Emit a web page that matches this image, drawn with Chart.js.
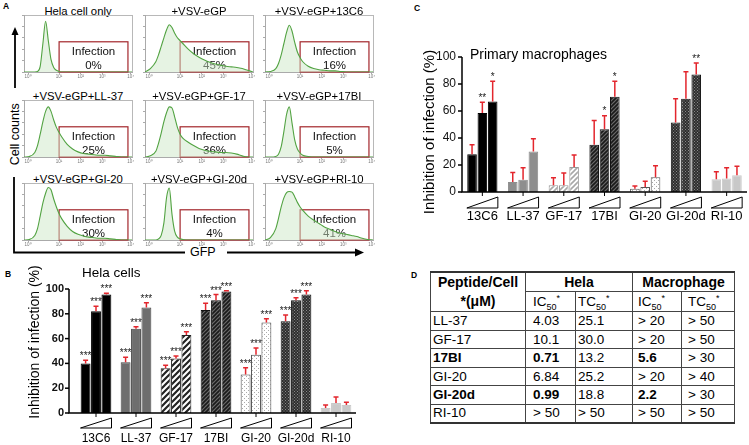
<!DOCTYPE html>
<html>
<head>
<meta charset="utf-8">
<script src="https://cdn.jsdelivr.net/npm/chart.js@4.4.1/dist/chart.umd.min.js"></script>
<style>
  body { margin: 0; background: #fff; }
  #fig { position: relative; width: 749px; height: 445px; overflow: hidden; font-family: 'Liberation Sans', Arial, sans-serif; color: #000; }
  #fig canvas { position: absolute; }
  .txt { position: absolute; white-space: nowrap; line-height: 1; }
  .letter { font-weight: bold; font-size: 8.5px; }
  .htitle { width: 130px; text-align: center; font-size: 11.3px; }
  #tbl { position: absolute; left: 430px; top: 271px; border-collapse: collapse; font-size: 13.5px; table-layout: fixed; }
  #tbl td, #tbl th { border: 1px solid #444; padding: 0 0 0 3px; text-align: left; line-height: 1; white-space: nowrap; }
  #tbl th { font-weight: bold; font-size: 14px; text-align: center; padding: 0; }
  #tbl tr.first th { border-top: 2px solid #333; }
  #tbl tr:last-child td { border-bottom: 2px solid #333; }
  #tbl sub, #tbl sup { font-size: 9px; line-height: 0; }
</style>
</head>
<body>
<div id="fig">
  <svg width="749" height="445" style="position:absolute;left:0;top:0">
    <g stroke="#000" stroke-width="1.8" fill="none">
      <line x1="15" y1="88" x2="15" y2="33"/>
      <polyline points="14,177 14,252.5 185,252.5"/>
      <line x1="227" y1="252.5" x2="356" y2="252.5"/>
    </g>
    <polygon points="15,27 11.5,35 18.5,35" fill="#000"/>
    <polygon points="364,252.5 355,248.5 355,256.5" fill="#000"/>
  </svg>
  <div class="txt letter" style="left:3px;top:2px">A</div>
  <div class="txt letter" style="left:5px;top:270px">B</div>
  <div class="txt letter" style="left:414px;top:4px">C</div>
  <div class="txt letter" style="left:411px;top:271px">D</div>
  <div class="txt" style="left:-22px;top:128px;width:74px;text-align:center;font-size:12.5px;transform:rotate(-90deg)">Cell counts</div>
  <div class="txt" style="left:190px;top:246px;font-size:12.5px">GFP</div>
  <div id="hist"></div>
  <canvas id="chartB" width="365" height="183" style="left:0;top:262px"></canvas>
  <canvas id="chartC" width="349" height="200" style="left:400px;top:30px"></canvas>
  <table id="tbl"></table>
</div>
<script>
Chart.defaults.font.family = "'Liberation Sans', Arial, sans-serif";
Chart.defaults.color = '#000';
const FONT = "'Liberation Sans', Arial, sans-serif";

// ---- panel A: flow histograms (GFP in log decades, counts in % of frame height)
const histTitles = ['Hela cell only', '+VSV-eGP', '+VSV-eGP+13C6', '+VSV-eGP+LL-37', '+VSV-eGP+GF-17',
  '+VSV-eGP+17BI', '+VSV-eGP+GI-20', '+VSV-eGP+GI-20d', '+VSV-eGP+RI-10'];
const infection = ['0%', '45%', '16%', '25%', '36%', '5%', '30%', '4%', '41%'];
const gfpLog = [0, 0.2, 0.4, 0.5, 0.6, 0.7, 0.8, 0.9, 1.0, 1.1, 1.2, 1.3, 1.4,
  1.6, 1.8, 2.0, 2.2, 2.4, 2.6, 2.8, 3.0, 3.2, 3.4, 3.6, 3.8, 4.0];
const gfpTicks = [0.15, 1.3, 2.1, 2.9, 3.95];
const gfpTickLabels = ['10⁰', '10¹', '10²', '10³', '10⁴'];
const gateRange = [1.3, 3.85];
const gateTop = 53;

const countsHela = [0, 0, 0, 1, 10, 50, 89, 55, 22, 8, 3, 1, 0, 0, 0, 0, 0, 0, 0, 0, 0, 0, 0, 0, 0, 0];
const countsVsv = [0, 6, 18, 30, 45, 60, 74, 83, 78, 68, 60, 55, 50, 40, 32, 26, 21, 17, 14, 12, 10, 9, 8, 6, 3, 0];
const counts13C6 = [0, 1, 6, 15, 30, 50, 70, 82, 72, 52, 35, 25, 18, 10, 6, 4, 3, 2, 2, 1, 0, 0, 0, 0, 0, 0];
const countsLL37 = [0, 1, 8, 20, 40, 62, 80, 88, 80, 65, 52, 43, 35, 22, 14, 9, 6, 5, 4, 3, 3, 2, 1, 0, 0, 0];
const countsGF17 = [0, 2, 10, 24, 42, 62, 78, 88, 86, 70, 52, 40, 33, 26, 20, 15, 12, 10, 9, 8, 8, 7, 5, 2, 0, 0];
const counts17BI = [0, 0, 1, 5, 18, 45, 75, 88, 60, 30, 14, 7, 3, 1, 0, 0, 0, 0, 0, 0, 0, 0, 0, 0, 0, 0];
const countsGI20 = [0, 1, 8, 20, 42, 65, 82, 92, 88, 72, 58, 46, 37, 24, 15, 10, 7, 5, 4, 3, 3, 2, 1, 0, 0, 0];
const countsGI20d = [0, 0, 0, 2, 8, 30, 75, 91, 45, 15, 5, 2, 1, 0, 0, 0, 0, 0, 0, 0, 0, 0, 0, 0, 0, 0];
const countsRI10 = [0, 4, 20, 38, 58, 74, 83, 85, 84, 76, 66, 58, 52, 42, 35, 29, 23, 19, 15, 12, 10, 8, 6, 3, 1, 0];
const histCounts = [countsHela, countsVsv, counts13C6, countsLL37, countsGF17, counts17BI, countsGI20, countsGI20d, countsRI10];

// ---- panels B and C: inhibition of infection (%), three rising doses per peptide
const peptides = ['13C6', 'LL-37', 'GF-17', '17BI', 'GI-20', 'GI-20d', 'RI-10'];
const helaLow = [40, 41, 36, 83, 31, 74, 4];
const helaMid = [82, 68, 44, 91, 47, 91, 8];
const helaHigh = [95.5, 85, 63, 98, 73, 95.5, 6.5];
const helaErrLow = [42.5, 45, 38.5, 88.5, 36.5, 79, 6.5];
const helaErrMid = [86, 69.5, 46, 95.5, 52.5, 93, 13];
const helaErrHigh = [96.5, 89, 65.5, 98.5, 76, 98.5, 8.6];
const helaStars = ['***', '***', '***', '***', '***', '***', ''];

const macLow = [28, 7.5, 5, 35, 2.5, 51.5, 9.5];
const macMid = [58.5, 9, 5, 46.5, 3.7, 69, 10];
const macHigh = [67, 30, 18.5, 70.5, 11, 87, 12.5];
const macErrLow = [35, 14.5, 10.5, 53, 4.5, 69, 15];
const macErrMid = [66.5, 18, 14, 56.5, 8, 89, 18];
const macErrHigh = [82, 39.5, 27.5, 82, 19.5, 95.5, 19];
const macStarsLow = ['', '', '', '', '', '', ''];
const macStarsMid = ['**', '', '', '*', '', '', ''];
const macStarsHigh = ['*', '', '', '*', '', '**', ''];

// ---- panel D
const tablePeptides = ['LL-37', 'GF-17', '17BI', 'GI-20', 'GI-20d', 'RI-10'];
const helaIC50 = ['4.03', '10.1', '0.71', '6.84', '0.99', '> 50'];
const helaTC50 = ['25.1', '30.0', '13.2', '25.2', '18.8', '> 50'];
const macIC50 = ['> 20', '> 20', '5.6', '> 20', '2.2', '> 50'];
const macTC50 = ['> 50', '> 50', '> 30', '> 40', '> 30', '> 50'];
const boldPeptides = ['17BI', 'GI-20d'];

// ---------------------------------------------------------------
const framePlugin = {
  id: 'frame',
  beforeDraw(chart) {
    const { ctx, chartArea: a } = chart;
    ctx.save();
    ctx.strokeStyle = '#b8b8b8';
    ctx.lineWidth = 1;
    ctx.strokeRect(a.left + 0.5, a.top + 0.5, a.right - a.left, a.bottom - a.top);
    ctx.restore();
  }
};

const gatePlugin = {
  id: 'gate',
  beforeDatasetsDraw(chart, args, opts) {
    const { ctx } = chart;
    const xs = chart.scales.x, ys = chart.scales.y;
    const l = xs.getPixelForValue(gateRange[0]), r = xs.getPixelForValue(gateRange[1]);
    const t = ys.getPixelForValue(gateTop), b = ys.getPixelForValue(0);
    ctx.save();
    ctx.strokeStyle = '#a3262b';
    ctx.lineWidth = 1.2;
    ctx.strokeRect(l, t, r - l, b - t);
    ctx.fillStyle = '#111';
    ctx.font = '11.5px ' + FONT;
    ctx.textAlign = 'center';
    ctx.textBaseline = 'middle';
    ctx.fillText('Infection', (l + r) / 2, t + 10.5);
    ctx.fillText(opts.label, (l + r) / 2, t + 24);
    ctx.restore();
  }
};

const colLeft = [24, 145, 265];
const rowTop = [15, 99.5, 183];
const titleY = [6, 90.5, 174];
const boxW = 108, boxH = 57;
const holder = document.getElementById('hist');

histCounts.forEach((counts, k) => {
  const col = k % 3, row = Math.floor(k / 3);
  const t = document.createElement('div');
  t.className = 'txt htitle';
  t.style.left = (colLeft[col] + boxW / 2 - 65) + 'px';
  t.style.top = titleY[row] + 'px';
  t.textContent = histTitles[k];
  holder.appendChild(t);

  const cv = document.createElement('canvas');
  cv.width = boxW + 7;
  cv.height = boxH + 9;
  cv.style.left = (colLeft[col] - 3) + 'px';
  cv.style.top = (rowTop[row] - 1) + 'px';
  holder.appendChild(cv);

  new Chart(cv, {
    type: 'line',
    data: {
      datasets: [{
        data: gfpLog.map((x, i) => ({ x: x, y: counts[i] })),
        borderColor: '#52a342',
        borderWidth: 1.1,
        backgroundColor: 'rgba(206, 232, 200, 0.5)',
        fill: 'origin',
        pointRadius: 0,
        cubicInterpolationMode: 'monotone'
      }]
    },
    options: {
      responsive: false, animation: false, events: [],
      layout: { padding: { left: 0, top: 1, right: 4, bottom: 0 } },
      plugins: { legend: { display: false }, tooltip: { enabled: false }, gate: { label: infection[k] } },
      scales: {
        x: {
          type: 'linear', min: 0, max: 4,
          afterBuildTicks: s => { s.ticks = gfpTicks.map(v => ({ value: v })); },
          ticks: { autoSkip: false, maxRotation: 0, padding: 0, font: { size: 4.5 }, color: '#777',
            callback: (v, i) => gfpTickLabels[i] },
          grid: { drawOnChartArea: false, tickLength: 2, color: '#aaa' },
          border: { color: '#aaa' },
          afterFit: s => { s.height = 8; }
        },
        y: {
          min: 0, max: 100,
          ticks: { display: false, stepSize: 20 },
          grid: { drawOnChartArea: false, tickLength: 2, color: '#aaa' },
          border: { color: '#aaa' },
          afterFit: s => { s.width = 3; }
        }
      }
    },
    plugins: [framePlugin, gatePlugin]
  });
});

// ---------------------------------------------------------------
function makePattern(g, size, draw) {
  const c = document.createElement('canvas');
  c.width = c.height = size;
  draw(c.getContext('2d'), size);
  return g.createPattern(c, 'repeat');
}
function stripes(g, bg, fg, size, lw) {
  return makePattern(g, size, (p, s) => {
    p.fillStyle = bg; p.fillRect(0, 0, s, s);
    p.strokeStyle = fg; p.lineWidth = lw;
    p.beginPath();
    p.moveTo(-1, s + 1); p.lineTo(s + 1, -1);
    p.moveTo(-1, 1); p.lineTo(1, -1);
    p.moveTo(s - 1, s + 1); p.lineTo(s + 1, s - 1);
    p.stroke();
  });
}
function dots(g, bg, fg, size) {
  return makePattern(g, size, (p, s) => {
    p.fillStyle = bg; p.fillRect(0, 0, s, s);
    p.fillStyle = fg; p.fillRect(0, 0, 1, 1); p.fillRect(s / 2, s / 2, 1, 1);
  });
}

const barDecor = {
  id: 'barDecor',
  afterDatasetsDraw(chart, args, o) {
    const { ctx, chartArea: a } = chart;
    const xs = chart.scales.x, ys = chart.scales.y;
    ctx.save();
    chart.data.datasets.forEach((ds, d) => {
      chart.getDatasetMeta(d).data.forEach((bar, i) => {
        const top = ys.getPixelForValue(ds.data[i]);
        const e = ys.getPixelForValue(ds.errTop[i]);
        ctx.strokeStyle = '#e3262d';
        ctx.lineWidth = 1.5;
        ctx.beginPath();
        ctx.moveTo(bar.x, top); ctx.lineTo(bar.x, e);
        ctx.moveTo(bar.x - o.cap, e); ctx.lineTo(bar.x + o.cap, e);
        ctx.stroke();
        if (ds.stars[i]) {
          ctx.fillStyle = '#222';
          ctx.font = o.starFont;
          ctx.textAlign = 'center';
          ctx.textBaseline = 'alphabetic';
          ctx.fillText(ds.stars[i], bar.x, e + o.starDy);
        }
      });
    });
    // axes
    const ax = a.left - o.axisGap;
    ctx.strokeStyle = '#000';
    ctx.lineWidth = 1.5;
    ctx.beginPath();
    ctx.moveTo(ax, ys.getPixelForValue(100)); ctx.lineTo(ax, a.bottom); ctx.lineTo(a.right, a.bottom);
    ctx.stroke();
    ys.ticks.forEach(t => {
      const y = ys.getPixelForValue(t.value);
      ctx.beginPath(); ctx.moveTo(ax - 4, y); ctx.lineTo(ax, y); ctx.stroke();
    });
    // dose ramps and category labels
    ctx.lineWidth = 1;
    peptides.forEach((p, i) => {
      const cx = xs.getPixelForValue(i);
      const h = o.rampHalf;
      ctx.beginPath(); ctx.moveTo(cx, a.bottom); ctx.lineTo(cx, a.bottom + 4); ctx.stroke();
      ctx.beginPath();
      ctx.moveTo(cx - h, a.bottom + o.rampBottom);
      ctx.lineTo(cx + h, a.bottom + o.rampBottom);
      ctx.lineTo(cx + h, a.bottom + o.rampTop);
      ctx.closePath();
      ctx.stroke();
      ctx.fillStyle = '#000';
      ctx.font = o.catFont;
      ctx.textAlign = 'center';
      ctx.textBaseline = 'middle';
      ctx.fillText(p, cx, a.bottom + o.labelDy);
    });
    // titles
    ctx.fillStyle = '#000';
    ctx.font = o.titleFont;
    ctx.textAlign = 'left';
    ctx.textBaseline = 'middle';
    ctx.fillText(o.title, o.titleX, o.titleY);
    ctx.translate(o.yTitleX, o.yTitleY);
    ctx.rotate(-Math.PI / 2);
    ctx.font = o.yTitleFont;
    ctx.textAlign = 'center';
    ctx.fillText('Inhibition of infection (%)', 0, 0);
    ctx.restore();
  }
};

function barChart(id, o) {
  const cv = document.getElementById(id);
  const fills = o.fills(cv.getContext('2d'));
  return new Chart(cv, {
    type: 'bar',
    data: {
      labels: peptides,
      datasets: o.values.map((v, d) => ({
        data: v, errTop: o.errs[d], stars: o.stars[d],
        backgroundColor: fills, borderColor: o.borders, borderWidth: 1,
        categoryPercentage: o.catPct, barPercentage: o.barPct
      }))
    },
    options: {
      responsive: false, animation: false, events: [],
      layout: { padding: o.padding },
      plugins: { legend: { display: false }, tooltip: { enabled: false }, barDecor: o.decor },
      scales: {
        x: { ticks: { display: false }, grid: { display: false, drawTicks: false }, border: { display: false },
          afterFit: s => { s.height = o.xH; } },
        y: { min: 0, max: 100, ticks: { stepSize: 20, padding: o.tickPad, font: o.tickFont, color: '#111' },
          grid: { display: false, drawTicks: false }, border: { display: false },
          afterFit: s => { s.width = o.yW; } }
      }
    },
    plugins: [barDecor]
  });
}

barChart('chartB', {
  values: [helaLow, helaMid, helaHigh],
  errs: [helaErrLow, helaErrMid, helaErrHigh],
  stars: [helaStars, helaStars, helaStars],
  fills: g => ['#000', '#6e6e6e', stripes(g, '#fff', '#222', 6, 2.2), stripes(g, '#6a6a6a', '#1a1a1a', 4, 1.6),
    dots(g, '#fff', '#aaa', 4), dots(g, '#2e2e2e', '#8a8a8a', 3), '#c9c9c9'],
  borders: ['#000', '#444', '#222', '#111', '#444', '#111', '#c9c9c9'],
  catPct: 0.78, barPct: 0.95,
  padding: { left: 0, top: 27, right: 9, bottom: 0 },
  xH: 32, yW: 76, tickPad: 12, tickFont: { size: 11, weight: 'bold' },
  decor: {
    axisGap: 7, cap: 2.5, starFont: '10px ' + FONT, starDy: -1,
    rampHalf: 15.5, rampTop: 5, rampBottom: 15, labelDy: 26, catFont: '12px ' + FONT,
    title: 'Hela cells', titleX: 82, titleY: 11, titleFont: '13.5px ' + FONT,
    yTitleX: 35, yTitleY: 80, yTitleFont: '14px ' + FONT
  }
});

barChart('chartC', {
  values: [macLow, macMid, macHigh],
  errs: [macErrLow, macErrMid, macErrHigh],
  stars: [macStarsLow, macStarsMid, macStarsHigh],
  fills: g => ['#000', '#8e8e8e', stripes(g, '#fff', '#a8a8a8', 5, 1.6), stripes(g, '#6a6a6a', '#1a1a1a', 4, 1.6),
    dots(g, '#fff', '#aaa', 4), dots(g, '#2e2e2e', '#8a8a8a', 3), '#c8c8c8'],
  borders: ['#000', '#8e8e8e', '#999', '#111', '#555', '#111', '#c8c8c8'],
  catPct: 0.76, barPct: 0.93,
  padding: { left: 0, top: 27, right: 2, bottom: 0 },
  xH: 38, yW: 62, tickPad: 6, tickFont: { size: 12 },
  decor: {
    axisGap: 0, cap: 2.5, starFont: '10px ' + FONT, starDy: -1.5,
    rampHalf: 15.5, rampTop: 5, rampBottom: 16, labelDy: 24, catFont: '13px ' + FONT,
    title: 'Primary macrophages', titleX: 70, titleY: 25, titleFont: '14px ' + FONT,
    yTitleX: 30, yTitleY: 102, yTitleFont: '15px ' + FONT
  }
});

// ---------------------------------------------------------------
const tbl = document.getElementById('tbl');
const colW = [95, 50, 57, 49, 53];
const colPad = [2, 7, 2, 5, 6];
let html = '<colgroup>' + colW.map(w => `<col style="width:${w}px">`).join('') + '</colgroup>';
html += '<tr class="first" style="height:19px"><th rowspan="2" style="line-height:19px">Peptide/Cell<br>*(μM)</th>' +
  '<th colspan="2">Hela</th><th colspan="2">Macrophage</th></tr>';
const sub = n => `${n}<sub>50</sub><sup>*</sup>`;
html += '<tr style="height:19px">' + [sub('IC'), sub('TC'), sub('IC'), sub('TC')]
  .map((s, j) => `<td style="padding-left:${colPad[j + 1]}px">${s}</td>`).join('') + '</tr>';
tablePeptides.forEach((p, i) => {
  const b = boldPeptides.includes(p);
  const cells = [p, helaIC50[i], helaTC50[i], macIC50[i], macTC50[i]];
  html += '<tr style="height:18.5px">' + cells.map((c, j) => {
    const w = b && (j === 0 || j === 1 || j === 3) ? 'bold' : 'normal';
    return `<td style="padding-left:${colPad[j]}px;font-weight:${w}">${c}</td>`;
  }).join('') + '</tr>';
});
tbl.innerHTML = html;
</script>
</body>
</html>
